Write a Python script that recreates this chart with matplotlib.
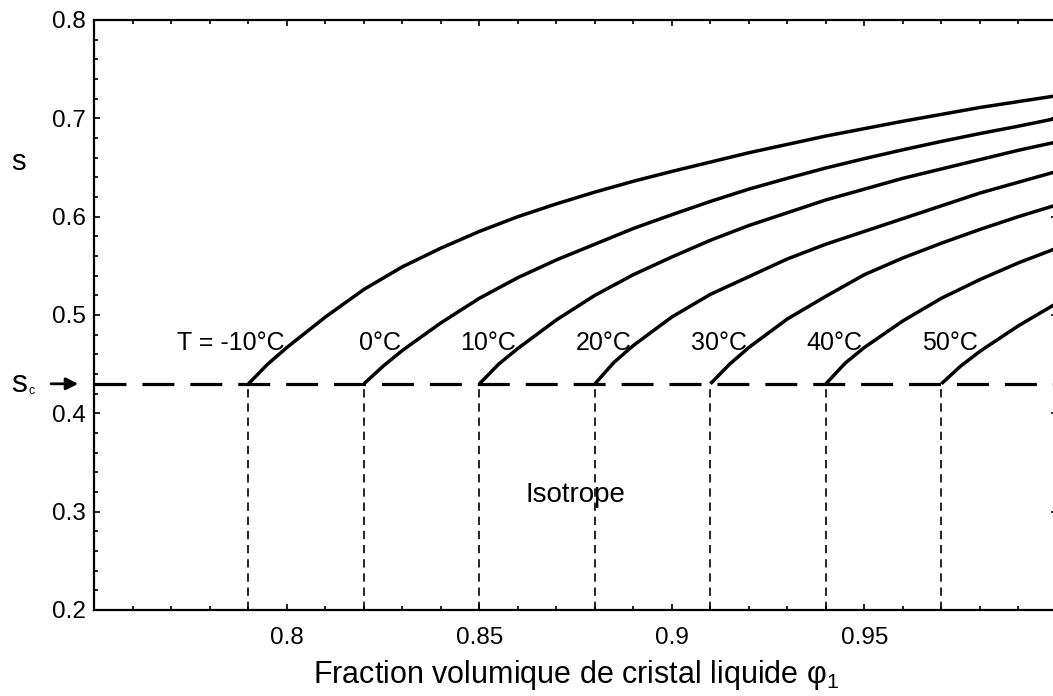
import matplotlib
matplotlib.use("Agg")
import matplotlib.pyplot as plt
from matplotlib.ticker import MultipleLocator, FixedLocator, FixedFormatter

plt.rcParams["font.family"] = ["Liberation Sans", "DejaVu Sans"]
plt.rcParams["mathtext.fontset"] = "custom"
plt.rcParams["mathtext.rm"] = "Liberation Sans"
plt.rcParams["mathtext.it"] = "Liberation Sans:italic"

# critical order parameter s_c
s_c = 0.43

# transition volume fractions (start of each curve)
temp_labels = ["T = -10°C", "0°C", "10°C", "20°C", "30°C", "40°C", "50°C"]
phi_start = [0.79, 0.82, 0.85, 0.88, 0.91, 0.94, 0.97]

# s(phi) for each temperature
phi_m10 = [0.79, 0.795, 0.80, 0.81, 0.82, 0.83, 0.84, 0.85, 0.86, 0.87, 0.88,
           0.89, 0.90, 0.92, 0.94, 0.96, 0.98, 1.0]
s_m10 = [0.43, 0.450, 0.467, 0.498, 0.526, 0.549, 0.568, 0.585, 0.600, 0.613, 0.625,
         0.636, 0.646, 0.665, 0.682, 0.697, 0.711, 0.723]

phi_0 = [0.82, 0.825, 0.83, 0.84, 0.85, 0.86, 0.87, 0.88, 0.89, 0.90, 0.91,
         0.92, 0.93, 0.94, 0.95, 0.96, 0.97, 0.98, 0.99, 1.0]
s_0 = [0.43, 0.448, 0.464, 0.492, 0.517, 0.538, 0.556, 0.572, 0.588, 0.602, 0.6155,
       0.628, 0.639, 0.6495, 0.659, 0.668, 0.6765, 0.6845, 0.692, 0.700]

phi_10 = [0.85, 0.855, 0.86, 0.87, 0.88, 0.89, 0.90, 0.91, 0.92, 0.93, 0.94,
          0.95, 0.96, 0.97, 0.98, 0.99, 1.0]
s_10 = [0.43, 0.450, 0.466, 0.495, 0.520, 0.541, 0.559, 0.576, 0.591, 0.604, 0.617,
        0.628, 0.639, 0.6485, 0.658, 0.6675, 0.676]

phi_20 = [0.88, 0.885, 0.89, 0.90, 0.91, 0.92, 0.93, 0.94, 0.95, 0.96, 0.97,
          0.98, 0.99, 1.0]
s_20 = [0.43, 0.452, 0.469, 0.498, 0.521, 0.539, 0.557, 0.572, 0.585, 0.598, 0.611,
        0.624, 0.635, 0.646]

phi_30 = [0.91, 0.915, 0.92, 0.93, 0.94, 0.95, 0.96, 0.97, 0.98, 0.99, 1.0]
s_30 = [0.43, 0.450, 0.467, 0.496, 0.519, 0.541, 0.558, 0.573, 0.587, 0.600, 0.612]

phi_40 = [0.94, 0.945, 0.95, 0.96, 0.97, 0.98, 0.99, 1.0]
s_40 = [0.43, 0.451, 0.467, 0.494, 0.517, 0.536, 0.553, 0.568]

phi_50 = [0.97, 0.975, 0.98, 0.99, 1.0]
s_50 = [0.43, 0.448, 0.463, 0.489, 0.512]

curves = [(phi_m10, s_m10), (phi_0, s_0), (phi_10, s_10), (phi_20, s_20),
          (phi_30, s_30), (phi_40, s_40), (phi_50, s_50)]

fig = plt.figure(figsize=(10.53, 6.96), dpi=100)
ax = fig.add_axes([0.0897, 0.1236, 0.914, 0.8477])

for phi, s in curves:
    ax.plot(phi, s, color="black", lw=2.5, solid_capstyle="butt", solid_joinstyle="round")

# s_c dashed line
ax.plot([0.75, 1.0], [s_c, s_c], color="black", lw=2.3, dashes=(10, 5))

# vertical drop lines
for p in phi_start:
    ax.plot([p, p], [0.2, s_c], color="black", lw=1.2, dashes=(5, 3.5))

for lab, p in zip(temp_labels, phi_start):
    ax.text(p + 0.0095, 0.472, lab, ha="right", va="center", fontsize=18)

ax.text(0.875, 0.317, "Isotrope", ha="center", va="center", fontsize=20)

ax.set_xlim(0.75, 1.0)
ax.set_ylim(0.2, 0.8)
ax.xaxis.set_major_locator(FixedLocator([0.8, 0.85, 0.9, 0.95]))
ax.xaxis.set_major_formatter(FixedFormatter(["0.8", "0.85", "0.9", "0.95"]))
ax.xaxis.set_minor_locator(MultipleLocator(0.01))
ax.yaxis.set_major_locator(FixedLocator([0.2, 0.3, 0.4, 0.5, 0.6, 0.7, 0.8]))
ax.yaxis.set_major_formatter(FixedFormatter(["0.2", "0.3", "0.4", "0.5", "0.6", "0.7", "0.8"]))
ax.yaxis.set_minor_locator(MultipleLocator(0.02))
ax.tick_params(which="both", direction="in", top=True, right=True, width=1.2)
ax.tick_params(which="major", length=4.5, labelsize=17.5)
ax.tick_params(axis="x", which="major", pad=12)
ax.tick_params(axis="y", which="major", pad=6)
ax.tick_params(which="minor", length=3)
for sp in ax.spines.values():
    sp.set_linewidth(1.6)

ax.set_xlabel(r"Fraction volumique de cristal liquide $\mathregular{\varphi_1}$", fontsize=22, labelpad=7)
ax.text(-0.086, 0.76, "s", transform=ax.transAxes, fontsize=21, ha="left", va="center")

# s_c marker with arrow left of the axis
ytr = ax.get_yaxis_transform()
ax.text(-0.087, s_c, "s", transform=ytr, fontsize=23, ha="left", va="center")
ax.text(-0.069, s_c - 0.007, "c", transform=ytr, fontsize=9, ha="left", va="center")
ax.annotate("", xy=(-0.014, s_c), xytext=(-0.048, s_c),
            xycoords=ytr, textcoords=ytr,
            arrowprops=dict(arrowstyle="-|>", color="black", lw=2, mutation_scale=18),
            annotation_clip=False)

fig.savefig("out.png", dpi=100)
